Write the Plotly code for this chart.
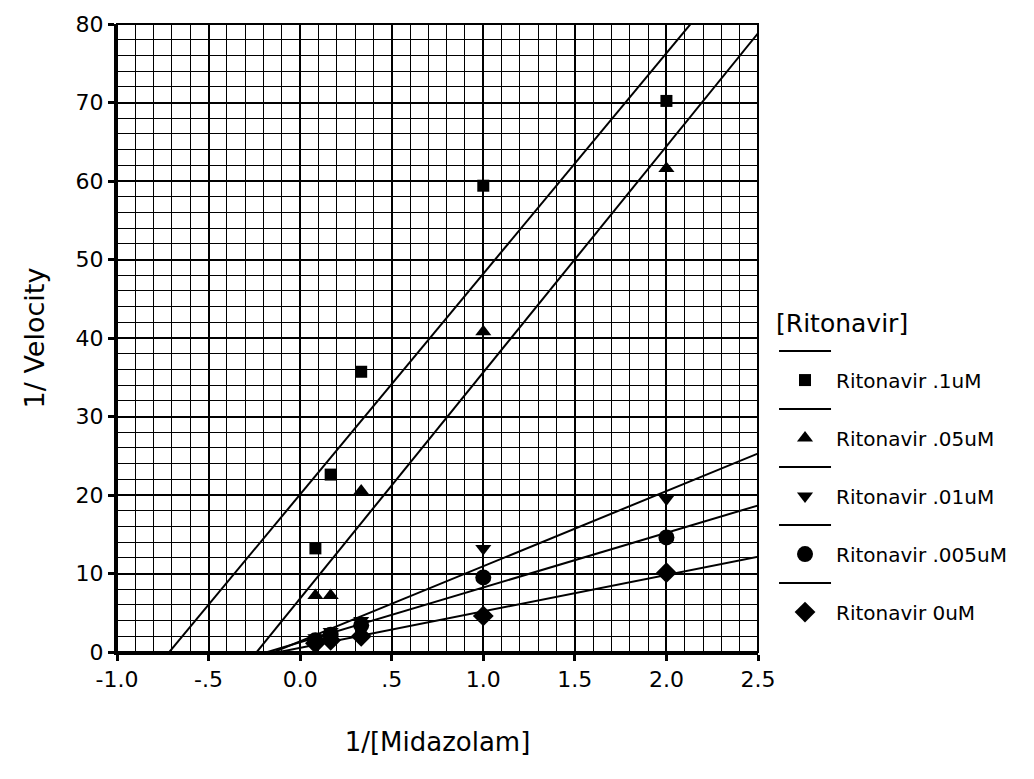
import numpy as np
import plotly.graph_objects as go

# 1/[Midazolam] values
x_vals = [1/12, 1/6, 1/3, 1.0, 2.0]

series_names = ["Ritonavir .1uM", "Ritonavir .05uM", "Ritonavir .01uM",
                "Ritonavir .005uM", "Ritonavir 0uM"]
y_01 = [13.2, 22.6, 35.7, 59.4, 70.2]
y_005 = [7.2, 7.2, 20.5, 40.8, 61.6]
y_001 = [1.8, 2.6, 4.0, 13.2, 19.5]
y_0005 = [1.5, 2.2, 3.4, 9.5, 14.6]
y_0 = [1.1, 1.5, 2.0, 4.6, 10.1]
series_values = [y_01, y_005, y_001, y_0005, y_0]

symbols = ["square", "triangle-up", "triangle-down", "circle", "diamond"]
msizes = [12, 14, 14, 16, 16]

x_tickvals = [-1.0, -0.5, 0.0, 0.5, 1.0, 1.5, 2.0, 2.5]
x_ticktext = ["-1.0", "-.5", "0.0", ".5", "1.0", "1.5", "2.0", "2.5"]
y_tickvals = [0, 10, 20, 30, 40, 50, 60, 70, 80]

FONT = "DejaVu Sans, Verdana, sans-serif"

fig = go.Figure()
x_line = np.array([-1.0, 2.6])
for name, ys, sym, ms in zip(series_names, series_values, symbols, msizes):
    slope, icpt = np.polyfit(x_vals, ys, 1)
    fig.add_trace(go.Scatter(
        x=x_line, y=slope * x_line + icpt, mode="lines",
        line=dict(color="black", width=2), name=" ", showlegend=True,
        hoverinfo="skip"))
    fig.add_trace(go.Scatter(
        x=x_vals, y=ys, mode="markers", name=name,
        marker=dict(symbol=sym, size=ms, color="black")))

fig.update_layout(
    width=1034, height=779,
    margin=dict(l=117, r=276, t=22, b=127),
    paper_bgcolor="white", plot_bgcolor="white",
    font=dict(family=FONT, color="black", size=22),
    showlegend=True,
    legend=dict(
        title=dict(text="[Ritonavir]", font=dict(size=25)),
        x=1.025, xanchor="left", y=0.562, yanchor="top",
        font=dict(size=20), tracegroupgap=0,
        bgcolor="rgba(0,0,0,0)", itemwidth=52,
    ),
)
fig.update_xaxes(
    range=[-1.0, 2.5], tickvals=x_tickvals, ticktext=x_ticktext,
    showgrid=True, gridcolor="black", gridwidth=2,
    minor=dict(dtick=0.1, tick0=-1.0, showgrid=True, gridcolor="black", gridwidth=1),
    showline=True, linecolor="black", linewidth=3,
    ticks="outside", ticklen=6, tickwidth=3, tickcolor="black",
    zeroline=False,
    title=dict(text="1/[Midazolam]", font=dict(size=26), standoff=42),
    tickfont=dict(size=22),
)
fig.update_yaxes(
    range=[0, 80], tickvals=y_tickvals,
    showgrid=True, gridcolor="black", gridwidth=2,
    minor=dict(dtick=2, tick0=0, showgrid=True, gridcolor="black", gridwidth=1),
    showline=True, linecolor="black", linewidth=3,
    ticks="outside", ticklen=6, tickwidth=3, tickcolor="black",
    zeroline=False,
    title=dict(text="1/ Velocity", font=dict(size=27), standoff=24),
    tickfont=dict(size=22),
)
fig.add_shape(type="rect", xref="paper", yref="paper", x0=0, y0=0, x1=1, y1=1,
              line=dict(color="black", width=2), layer="above")

fig.write_html("out.html")
